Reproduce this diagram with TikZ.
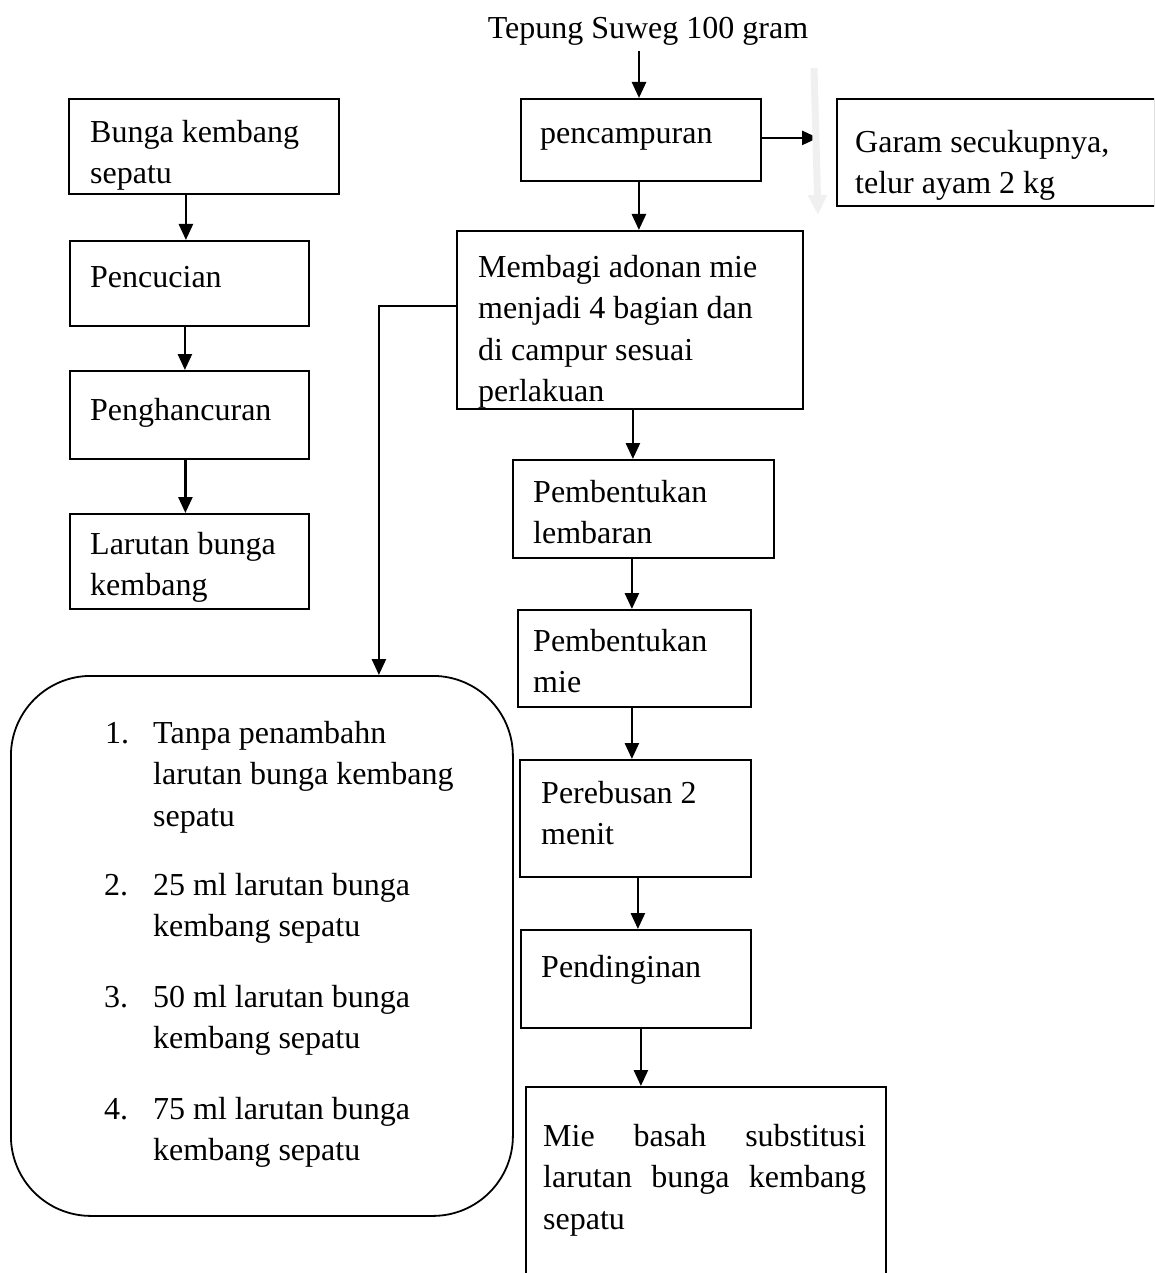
\documentclass[tikz,border=0pt]{standalone}
\usepackage{fontspec}
\setmainfont{Liberation Serif}
\usetikzlibrary{arrows.meta}
\newcommand\bigfs{\fontsize{32}{41.5}\selectfont}
\tikzset{
  box/.style={draw, line width=1.8pt, rectangle, inner sep=0pt, anchor=north west},
  txt/.style={anchor=north west, inner sep=0pt, align=left, font=\bigfs},
  arr/.style={line width=2.6pt, -{Triangle[length=16pt,width=14pt]}},
  grayarr/.style={line width=7pt, draw=black!6, -{Triangle[length=20pt,width=18pt]}},
}
\begin{document}
\begin{tikzpicture}[x=1pt,y=-1pt]
\useasboundingbox (0,0) rectangle (1154,1273);
\clip (0,0) rectangle (1154,1273);
\fill[white] (0,0) rectangle (1154,1273);

% left column
\node[box, minimum width=270pt, minimum height=95pt] (b1) at (68,98) {};
\node[txt] (t1) at (90,113) {\strut Bunga kembang\\sepatu};
\node[box, minimum width=239pt, minimum height=85pt] (b2) at (69,240) {};
\node[txt] (t2) at (90,258) {\strut Pencucian};
\node[box, minimum width=239pt, minimum height=88pt] (b3) at (69,370) {};
\node[txt] (t3) at (90,391) {\strut Penghancuran};
\node[box, minimum width=239pt, minimum height=95pt] (b4) at (69,513) {};
\node[txt] (t4) at (90,525) {\strut Larutan bunga\\kembang};

% title and top
\node[anchor=north, inner sep=0pt, font=\bigfs] (title) at (648,9) {\strut Tepung Suweg 100 gram};
\node[box, minimum width=240pt, minimum height=82pt] (p1) at (520,98) {};
\node[txt] (tp1) at (540,114) {\strut pencampuran};
\node[box, minimum width=318pt, minimum height=107pt] (g) at (836,98) {};
\node[txt] (tg) at (855,123) {\strut Garam secukupnya,\\telur ayam 2 kg};
\coordinate (gs) at (814,68);
\coordinate (ge) at (818,215);

% right column
\node[box, minimum width=346pt, minimum height=178pt] (m) at (456,230) {};
\node[txt] (tm) at (478,248) {\strut Membagi adonan mie\\menjadi 4 bagian dan\\di campur sesuai\\perlakuan};
\node[box, minimum width=261pt, minimum height=98pt] (pl) at (512,459) {};
\node[txt] (tpl) at (533,473) {\strut Pembentukan\\lembaran};
\node[box, minimum width=233pt, minimum height=97pt] (pm) at (517,609) {};
\node[txt] (tpm) at (533,622) {\strut Pembentukan\\mie};
\node[box, minimum width=231pt, minimum height=117pt] (pr) at (519,759) {};
\node[txt] (tpr) at (541,774) {\strut Perebusan 2\\menit};
\node[box, minimum width=230pt, minimum height=98pt] (pd) at (520,929) {};
\node[txt] (tpd) at (541,948) {\strut Pendinginan};
\node[box, minimum width=360pt, minimum height=220pt] (mie) at (525,1086) {};
\node[anchor=north west, inner sep=0pt, text width=323pt, align=justify, font=\bigfs] (tmie) at (543,1117)
  {\strut Mie basah substitusi\linebreak larutan bunga kembang\linebreak sepatu};

% rounded list box
\node[box, rounded corners=80pt, minimum width=502pt, minimum height=540pt] (L) at (10,675) {};
\node[txt] (n1) at (105,714) {\strut 1.};
\node[txt] (i1) at (153,714) {\strut Tanpa penambahn\\larutan bunga kembang\\sepatu};
\node[txt] (n2) at (104,866) {\strut 2.};
\node[txt] (i2) at (153,866) {\strut 25 ml larutan bunga\\kembang sepatu};
\node[txt] (n3) at (104,978) {\strut 3.};
\node[txt] (i3) at (153,978) {\strut 50 ml larutan bunga\\kembang sepatu};
\node[txt] (n4) at (104,1090) {\strut 4.};
\node[txt] (i4) at (153,1090) {\strut 75 ml larutan bunga\\kembang sepatu};

% connectors
\draw[arr] ([xshift=-18pt]b1.south) -- ([xshift=-18pt]b1.south |- b2.north);
\draw[arr] ([xshift=-4.5pt]b2.south) -- ([xshift=-4.5pt]b2.south |- b3.north);
\draw[arr] ([xshift=-4pt]b3.south) -- ([xshift=-4pt]b3.south |- b4.north);

\draw[arr] ([xshift=-9pt]title.south) -- ([xshift=-9pt]title.south |- p1.north);
\draw[arr, shorten >=18pt] ([yshift=2pt]p1.east) -- ([yshift=2pt]p1.east -| g.west);
\draw[grayarr] (gs) -- (ge);
\draw[arr] ([xshift=-2pt]p1.south) -- ([xshift=-2pt]p1.south |- m.north);
\draw[arr] ([yshift=14pt]m.west) -| ([xshift=117pt]L.north);
\draw[arr] ([xshift=3pt]m.south) -- ([xshift=3pt]m.south |- pl.north);
\draw[arr] ([xshift=-11.5pt]pl.south) -- ([xshift=-11.5pt]pl.south |- pm.north);
\draw[arr] ([xshift=-2.5pt]pm.south) -- ([xshift=-2.5pt]pm.south |- pr.north);
\draw[arr] ([xshift=2.5pt]pr.south) -- ([xshift=2.5pt]pr.south |- pd.north);
\draw[arr] ([xshift=5pt]pd.south) -- ([xshift=5pt]pd.south |- mie.north);
\end{tikzpicture}
\end{document}
